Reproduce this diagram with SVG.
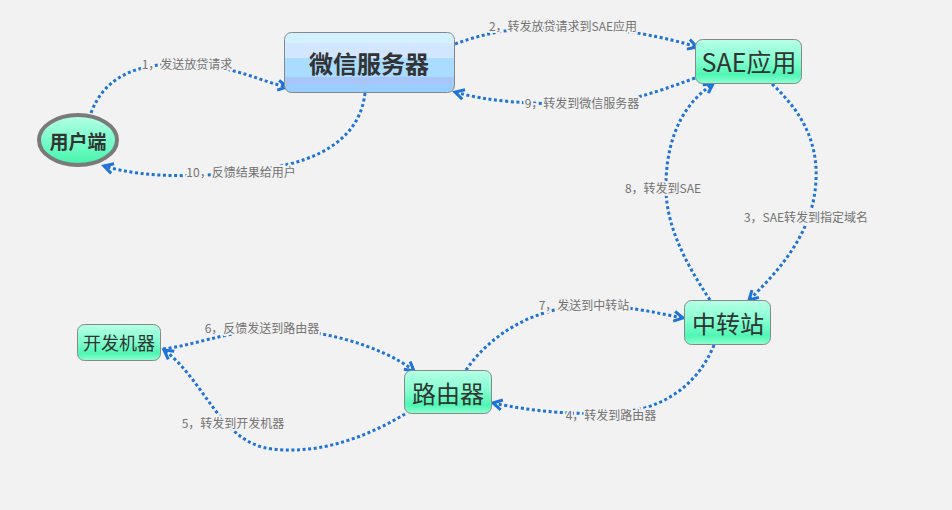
<svg xmlns="http://www.w3.org/2000/svg" width="952" height="510" viewBox="0 0 952 510">
<defs>
<style>
.bg{fill:#f2f2f2}
.edge{fill:none;stroke:#1f72d6;stroke-width:3;stroke-dasharray:3 2.6;marker-end:url(#arr)}
.lbl{font-family:"Noto Sans CJK SC","Liberation Sans",sans-serif;font-size:12px;fill:#737373;text-anchor:middle;stroke:#f2f2f2;stroke-width:4;paint-order:stroke;stroke-linejoin:round}
.nt{font-family:"Noto Sans CJK SC","Liberation Sans",sans-serif;fill:#333;text-anchor:middle;dominant-baseline:central}
.mint{fill:url(#gMint);stroke:#888;stroke-width:1}
</style>
<linearGradient id="gMint" x1="0" y1="0" x2="0" y2="1">
<stop offset="0" stop-color="#b6ffe6"/>
<stop offset="0.45" stop-color="#86ffd2"/>
<stop offset="0.8" stop-color="#4ff7b3"/>
<stop offset="1" stop-color="#8effd3"/>
</linearGradient>
<linearGradient id="gEll" x1="0" y1="0" x2="0" y2="1">
<stop offset="0" stop-color="#b6ffe6"/>
<stop offset="0.6" stop-color="#70fcc6"/>
<stop offset="1" stop-color="#44f2a8"/>
</linearGradient>
<linearGradient id="gBlue" x1="0" y1="0" x2="0" y2="1">
<stop offset="0" stop-color="#d4f1ff"/>
<stop offset="0.17" stop-color="#d4f1ff"/>
<stop offset="0.17" stop-color="#d2e6ff"/>
<stop offset="0.42" stop-color="#d2e6ff"/>
<stop offset="0.42" stop-color="#a9dcff"/>
<stop offset="0.75" stop-color="#a9dcff"/>
<stop offset="0.75" stop-color="#a8c6f8"/>
<stop offset="0.88" stop-color="#a8c6f8"/>
<stop offset="0.88" stop-color="#98cfff"/>
<stop offset="1" stop-color="#98cfff"/>
</linearGradient>
<marker id="arr" markerUnits="userSpaceOnUse" markerWidth="14" markerHeight="14" refX="10" refY="6" orient="auto" viewBox="0 0 14 12">
<path d="M1,1 L10,6 L1,11" fill="none" stroke="#1f72d6" stroke-width="3"/>
</marker>
</defs>
<rect class="bg" x="0" y="0" width="952" height="510"/>

<g id="connectors">
<path id="e1" class="edge" d="M91,113 C105,75 140,62 188,64 C235,66 262,82 287,87"/>
<path id="e2" class="edge" d="M455,44 C490,31 522,27 563,27 C620,27 668,38 697,47"/>
<path id="e9" class="edge" d="M695,78 C652,94 622,104 582,104 C530,104 490,102 455,92"/>
<path id="e10" class="edge" d="M365,93 C360,138 320,160 270,168 C215,177 150,180 104,166"/>
<path id="e3" class="edge" d="M772,84 C800,110 818,140 816,180 C814,230 782,268 749,300"/>
<path id="e8" class="edge" d="M710,300 C682,258 664,220 666,180 C668,132 686,102 713,84"/>
<path id="e7" class="edge" d="M466,370 C490,335 532,309 582,306 C620,304 652,312 683,318"/>
<path id="e4" class="edge" d="M714,345 C700,380 670,405 630,411 C582,417 530,411 493,403"/>
<path id="e6" class="edge" d="M163,349 C195,345 222,333 262,330 C312,326 382,345 414,371"/>
<path id="e5" class="edge" d="M405,414 C370,435 322,455 272,449 C220,443 205,380 164,350"/>
</g>

<g id="labels">
<text class="lbl" x="187" y="69">1，发送放贷请求</text>
<text class="lbl" x="563" y="31">2，转发放贷请求到SAE应用</text>
<text class="lbl" x="582" y="108">9，转发到微信服务器</text>
<text class="lbl" x="241" y="177">10，反馈结果给用户</text>
<text class="lbl" x="806" y="222">3，SAE转发到指定域名</text>
<text class="lbl" x="663" y="193">8，转发到SAE</text>
<text class="lbl" x="584" y="310">7，发送到中转站</text>
<text class="lbl" x="611" y="420">4，转发到路由器</text>
<text class="lbl" x="262" y="333">6，反馈发送到路由器</text>
<text class="lbl" x="233" y="428">5，转发到开发机器</text>
</g>

<g id="n-user">
<ellipse cx="78" cy="140" rx="39" ry="25" fill="url(#gEll)" stroke="#7a7a7a" stroke-width="4"/>
<text class="nt" x="78" y="140" font-size="19" font-weight="bold">用户端</text>
</g>
<g id="n-wechat">
<rect x="284.500" y="32.500" width="170" height="60" rx="7" fill="url(#gBlue)" stroke="#888" stroke-width="1"/>
<text class="nt" x="369" y="62" font-size="24" font-weight="bold" fill="#444">微信服务器</text>
</g>
<g id="n-sae">
<rect class="mint" x="695.500" y="39.500" width="106" height="44" rx="7"/>
<text class="nt" x="749" y="61" font-size="25">SAE应用</text>
</g>
<g id="n-relay">
<rect class="mint" x="684.500" y="300.500" width="86" height="44" rx="7"/>
<text class="nt" x="728" y="322" font-size="24">中转站</text>
</g>
<g id="n-dev">
<rect class="mint" x="77.500" y="324.500" width="83" height="36" rx="7"/>
<text class="nt" x="119" y="342" font-size="18">开发机器</text>
</g>
<g id="n-router">
<rect class="mint" x="404.500" y="370.500" width="87" height="43" rx="7"/>
<text class="nt" x="448" y="392" font-size="24">路由器</text>
</g>
</svg>
